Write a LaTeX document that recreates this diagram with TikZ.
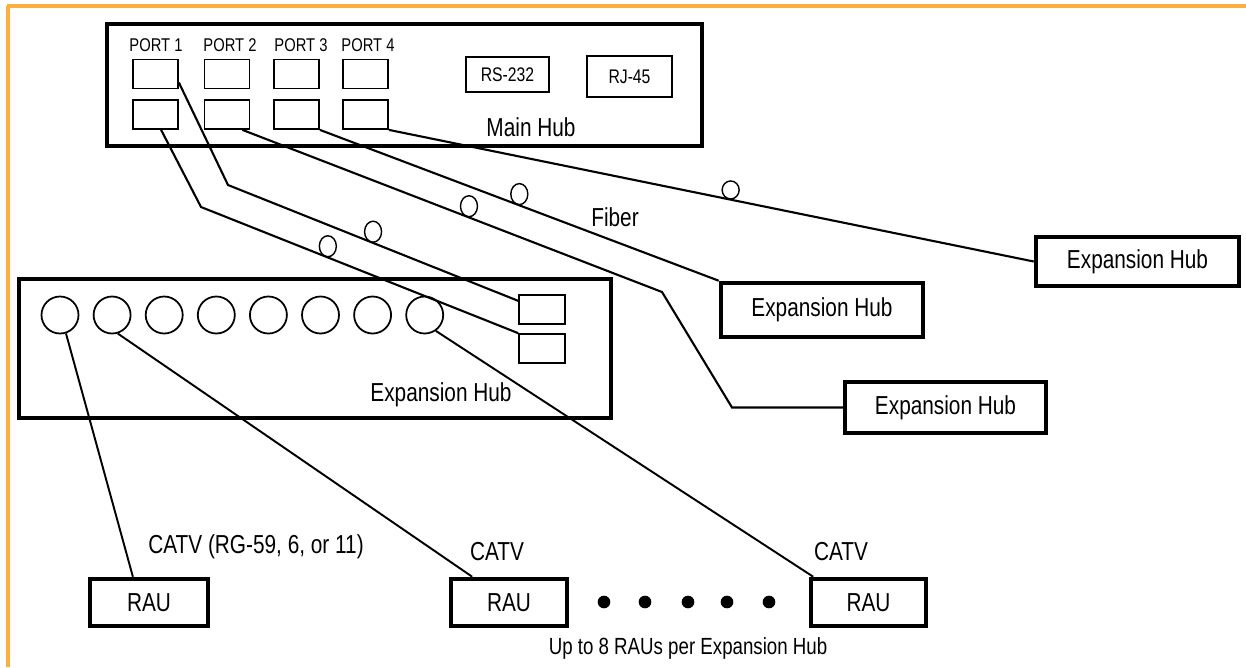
\documentclass[tikz,border=0pt]{standalone}
\usepackage{fontspec}
\setmainfont[FakeStretch=0.8]{Liberation Sans}
\usetikzlibrary{shapes.geometric}
\definecolor{framecol}{RGB}{251,176,64}

\begin{document}
\begin{tikzpicture}[x=.02cm, y=-.02cm,
  hub/.style={draw, line width=2.6pt, inner sep=0pt, font=\fontsize{14.8}{16}\selectfont},
  port/.style={draw, line width=1pt, inner sep=0pt, minimum width=.9cm, minimum height=.58cm},
  jack/.style={draw, line width=1pt, inner sep=0pt, font=\fontsize{11.2}{13}\selectfont},
  coax/.style={circle, draw, line width=1pt, inner sep=0pt, minimum size=.74cm},
  loopmark/.style={ellipse, draw, line width=.8pt, inner sep=0pt, minimum width=.34cm, minimum height=.42cm, anchor=south},
  fiber/.style={line width=1.2pt},
  catv/.style={line width=1.1pt},
  lbl/.style={font=\fontsize{14.8}{16}\selectfont},
  portlbl/.style={font=\fontsize{10.5}{12}\selectfont},
  note/.style={font=\fontsize{13.3}{15}\selectfont}]
\useasboundingbox (0,0) rectangle (1246,667);
\draw[framecol, line width=2.2pt] (7,6) -- (1246,6);
\draw[framecol, line width=2.2pt] (8,6) -- (8,667);
% main hub
\node[hub, minimum width=11.9cm, minimum height=2.44cm] (mainhub) at (404.5,85) {};
\node[lbl] (mainlbl) at (531,127) {Main Hub};
\foreach \i/\x/\lx in {1/155.5/156, 2/227/230, 3/296.5/301, 4/365.5/368} {
  \node[port] (pt\i) at (\x,74) {};
  \node[port] (pb\i) at (\x,114.5) {};
  \node[portlbl] (plbl\i) at (\lx,45) {PORT \i};
}
\node[jack, minimum width=1.66cm, minimum height=.7cm] (rs) at (507.5,74.5) {RS-232};
\node[jack, minimum width=1.7cm, minimum height=.82cm] (rj) at (629.5,76.5) {RJ-45};
% expansion hub
\node[hub, minimum width=11.84cm, minimum height=2.78cm] (exphub) at (315,348.5) {};
\node[lbl] (explbl) at (441,395) {Expansion Hub};
\foreach \i in {1,...,8}
  \node[coax] (c\i) at ({60+52.1*(\i-1)},315) {};
\node[port, minimum width=.92cm] (sa) at (542,309.5) {};
\node[port, minimum width=.92cm] (sb) at (542,348.5) {};
% remote hubs
\node[hub, minimum width=4.06cm, minimum height=.98cm] (eh1) at (1137.5,261.5) {Expansion Hub};
\node[hub, minimum width=4.04cm, minimum height=1.08cm] (eh2) at (822,310) {Expansion Hub};
\node[hub, minimum width=4.02cm, minimum height=1.02cm] (eh3) at (945.5,407.5) {Expansion Hub};
\node[lbl] (fiberlbl) at (615,217) {Fiber};
% fiber runs
\coordinate (k1) at (228,185);
\coordinate (k2) at (201,207);
\coordinate (k3) at (662,292);
\coordinate (k4) at (732,407.5);
\draw[fiber] (pt1.-20) -- (k1) -- node[loopmark, pos=.5] {} (sa.160);
\draw[fiber] (pb1.-70) -- (k2) -- node[loopmark, pos=.4] {} (sb.north west);
\draw[fiber] (pb2.-45) -- node[loopmark, pos=.54] {} (k3) -- (k4) -- (eh3.west);
\draw[fiber] (pb3.south east) -- node[loopmark, pos=.5] {} (eh2.north west);
\draw[fiber] (pb4.south east) -- node[loopmark, pos=.53, minimum height=.36cm] {} (eh1.west);
% remote units
\node[hub, minimum width=2.36cm, minimum height=.94cm] (rau1) at (149,602.5) {RAU};
\node[hub, minimum width=2.32cm, minimum height=.94cm] (rau2) at (509,602.5) {RAU};
\node[hub, minimum width=2.3cm, minimum height=.94cm] (rau3) at (868.5,602.5) {RAU};
\draw[catv] (c1.-72) -- (rau1.122);
\draw[catv] (c2.-73) -- (rau2.145);
\draw[catv] (c8.-55) -- (rau3.155);
\node[lbl] (catv1) at (256,547) {CATV (RG-59, 6, or 11)};
\node[lbl] (catv2) at (497,552) {CATV};
\node[lbl] (catv3) at (841,552) {CATV};
\foreach \x in {604,645,688,727,769}
  \fill (\x,602) circle (3.6pt);
\node[note] (uplbl) at (688,648) {Up to 8 RAUs per Expansion Hub};
\end{tikzpicture}
\end{document}
